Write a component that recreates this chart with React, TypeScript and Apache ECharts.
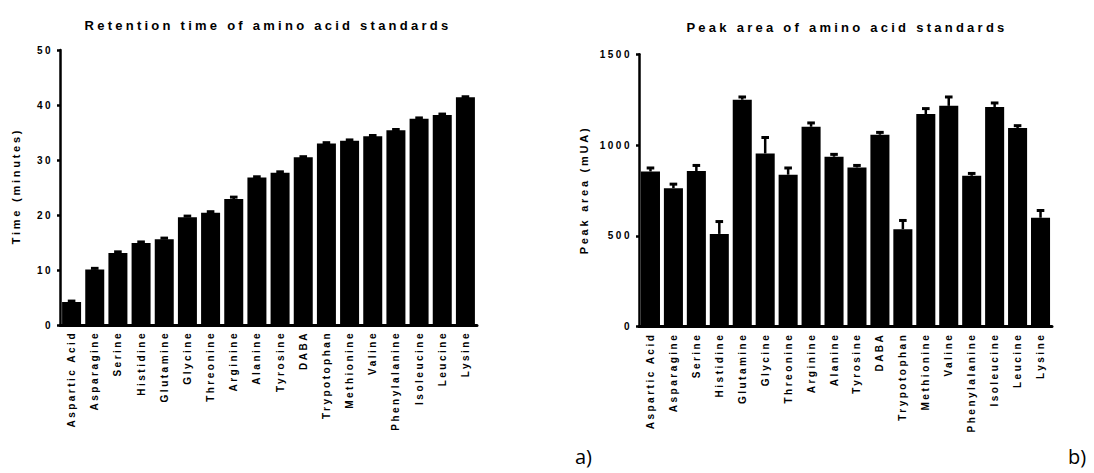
import React, { useEffect, useRef } from "react";
import * as echarts from "echarts";

const categories = [
  "Aspartic Acid", "Asparagine", "Serine", "Histidine", "Glutamine", "Glycine",
  "Threonine", "Arginine", "Alanine", "Tyrosine", "DABA", "Trypotophan",
  "Methionine", "Valine", "Phenylalanine", "Isoleucine", "Leucine", "Lysine",
];
const retentionTime = [4.2, 10.1, 13.1, 14.9, 15.6, 19.6, 20.4, 22.9, 26.8, 27.7, 30.5, 33.0, 33.5, 34.3, 35.4, 37.5, 38.2, 41.4];
const retentionErr = [0.15, 0.2, 0.2, 0.2, 0.2, 0.2, 0.2, 0.35, 0.15, 0.15, 0.1, 0.15, 0.15, 0.15, 0.15, 0.15, 0.15, 0.1];
const peakArea = [855, 763, 857, 511, 1250, 954, 837, 1101, 936, 877, 1057, 537, 1171, 1216, 831, 1210, 1094, 600];
const peakErr = [19, 22, 31, 68, 15, 88, 37, 21, 13, 11, 13, 48, 30, 49, 13, 22, 13, 40];
const timeTicks = { min: 0, max: 50, interval: 10 };
const areaTicks = { min: 0, max: 1500, interval: 500 };

const FONT = "'Liberation Sans', Arial, sans-serif";

function errorSeries(axisIdx: number, values: number[], errs: number[]) {
  return {
    type: "custom",
    xAxisIndex: axisIdx,
    yAxisIndex: axisIdx,
    z: 5,
    data: values.map((v, i) => [i, v, v + errs[i]]),
    renderItem: (params: any, api: any) => {
      const x = api.value(0);
      const base = api.coord([x, api.value(1)]);
      const top = api.coord([x, api.value(2)]);
      return {
        type: "group",
        children: [
          { type: "line", shape: { x1: top[0], y1: base[1], x2: top[0], y2: top[1] }, style: { stroke: "#000", lineWidth: 2.5 } },
          { type: "rect", shape: { x: top[0] - 3.8, y: top[1] - 1.5, width: 7.6, height: 3 }, style: { fill: "#000" } },
        ],
      };
    },
  };
}

function xAxis(gridIndex: number) {
  return {
    type: "category",
    gridIndex,
    data: categories,
    axisLine: { lineStyle: { color: "#000", width: 3 } },
    axisTick: { alignWithLabel: true, length: 3, lineStyle: { color: "#000", width: 2 } },
    axisLabel: { rotate: 90, interval: 0, margin: 6, color: "#000", fontSize: 10, fontWeight: "bold", fontFamily: FONT },
  };
}

function yAxis(gridIndex: number, ticks: any) {
  return {
    type: "value",
    gridIndex,
    min: ticks.min,
    max: ticks.max,
    interval: ticks.interval,
    splitLine: { show: false },
    axisLine: { show: true, lineStyle: { color: "#000", width: 2.5 } },
    axisTick: { show: true, length: 3, lineStyle: { color: "#000", width: 2.5 } },
    axisLabel: { margin: 7, color: "#000", fontSize: 10, fontWeight: "bold", fontFamily: FONT, formatter: (v: number) => String(v) },
  };
}

function label(text: string, x: number, y: number, size: number, rotation = 0) {
  return {
    type: "text",
    x,
    y,
    rotation,
    style: { text, x: 0, y: 0, textAlign: "center", textVerticalAlign: "middle", fill: "#000", fontSize: size, fontWeight: "bold", fontFamily: FONT },
  };
}

export default function App() {
  const ref = useRef<HTMLDivElement>(null);
  useEffect(() => {
    if (!ref.current) return;
    const chart = echarts.init(ref.current, null, { renderer: "svg" });
    chart.setOption({
      animation: false,
      backgroundColor: "#fff",
      grid: [
        { left: 60, top: 50, width: 417, height: 275 },
        { left: 639, top: 54.3, width: 413, height: 272.4 },
      ],
      xAxis: [xAxis(0), xAxis(1)],
      yAxis: [yAxis(0, timeTicks), yAxis(1, areaTicks)],
      graphic: [
        label("Retention time of amino acid standards", 268, 25, 13),
        label("Peak area of amino acid standards", 847, 27, 13),
        label("Time (minutes)", 16, 186, 11, Math.PI / 2),
        label("Peak area (mUA)", 584, 190, 11, Math.PI / 2),
        { type: "text", style: { text: "a)", x: 575, y: 456, textAlign: "left", textVerticalAlign: "middle", fill: "#000", fontSize: 20, fontFamily: "'Open Sans', sans-serif" } },
        { type: "text", style: { text: "b)", x: 1068, y: 456, textAlign: "left", textVerticalAlign: "middle", fill: "#000", fontSize: 20, fontFamily: "'Open Sans', sans-serif" } },
      ],
      series: [
        { type: "bar", xAxisIndex: 0, yAxisIndex: 0, data: retentionTime, barCategoryGap: "18%", itemStyle: { color: "#000" } },
        errorSeries(0, retentionTime, retentionErr),
        { type: "bar", xAxisIndex: 1, yAxisIndex: 1, data: peakArea, barCategoryGap: "17%", itemStyle: { color: "#000" } },
        errorSeries(1, peakArea, peakErr),
      ],
    });
    return () => chart.dispose();
  }, []);
  return (
    <>
      <style>{`.ec svg text { letter-spacing: 0.25em !important; } .ec svg text[style*="Open"] { letter-spacing: 0 !important; }`}</style>
      <div ref={ref} className="ec" style={{ position: "fixed", left: 0, top: 0, width: 1094, height: 473 }} />
    </>
  );
}
